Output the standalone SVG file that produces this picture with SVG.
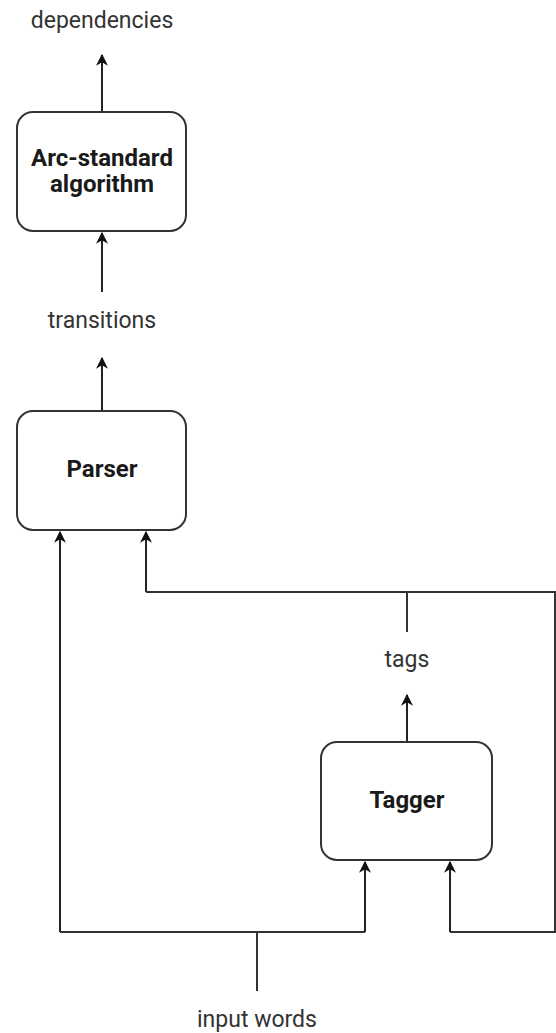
<svg xmlns="http://www.w3.org/2000/svg" width="556" height="1033" viewBox="0 0 556 1033">
  <style>
    .box { fill: #ffffff; stroke: #333333; stroke-width: 2; }
    .title { font-family: Roboto, "Liberation Sans", Arial, sans-serif; font-size: 24px; font-weight: bold; fill: #1a1a1a; text-anchor: middle; }
    .label { font-family: Roboto, "Liberation Sans", Arial, sans-serif; font-size: 23px; fill: #333333; text-anchor: middle; }
    .wire { fill: none; stroke: #333333; stroke-width: 2; }
    .arrow { fill: none; stroke: #222222; stroke-width: 2; marker-end: url(#head); }
  </style>
  <defs>
    <marker id="head" viewBox="0 0 10 10" refX="9" refY="5" markerWidth="6" markerHeight="6" orient="auto" markerUnits="strokeWidth">
      <path d="M0,0 L10,5 L0,10 L3,5 Z" fill="#111111"/>
    </marker>
  </defs>

  <rect width="556" height="1033" fill="#ffffff"/>

  <g id="connectors">
    <path class="arrow" d="M102,112 L102,55"/>
    <path class="arrow" d="M102,292 L102,233"/>
    <path class="arrow" d="M102,411 L102,358"/>
    <path class="arrow" d="M60,932 L60,532"/>
    <path class="arrow" d="M146,592 L146,532"/>
    <path class="wire" d="M146,592 L555,592 L555,932 L450,932"/>
    <path class="arrow" d="M450,932 L450,862"/>
    <path class="wire" d="M407,592 L407,632"/>
    <path class="arrow" d="M407,742 L407,695"/>
    <path class="wire" d="M60,932 L365,932"/>
    <path class="arrow" d="M365,932 L365,862"/>
    <path class="wire" d="M257,932 L257,991"/>
  </g>

  <g id="label-dependencies"><text class="label" x="102" y="28">dependencies</text></g>
  <g id="label-transitions"><text class="label" x="102" y="328">transitions</text></g>
  <g id="label-tags"><text class="label" x="407" y="667">tags</text></g>
  <g id="label-input"><text class="label" x="257" y="1027">input words</text></g>

  <g id="node-arc-standard">
    <rect class="box" x="17" y="112" width="169" height="119" rx="16"/>
    <text class="title" x="102" y="166">Arc-standard</text>
    <text class="title" x="102" y="192">algorithm</text>
  </g>
  <g id="node-parser">
    <rect class="box" x="17" y="411" width="169" height="119" rx="16"/>
    <text class="title" x="102" y="477">Parser</text>
  </g>
  <g id="node-tagger">
    <rect class="box" x="321" y="742" width="171" height="118" rx="16"/>
    <text class="title" x="407" y="808">Tagger</text>
  </g>
</svg>
